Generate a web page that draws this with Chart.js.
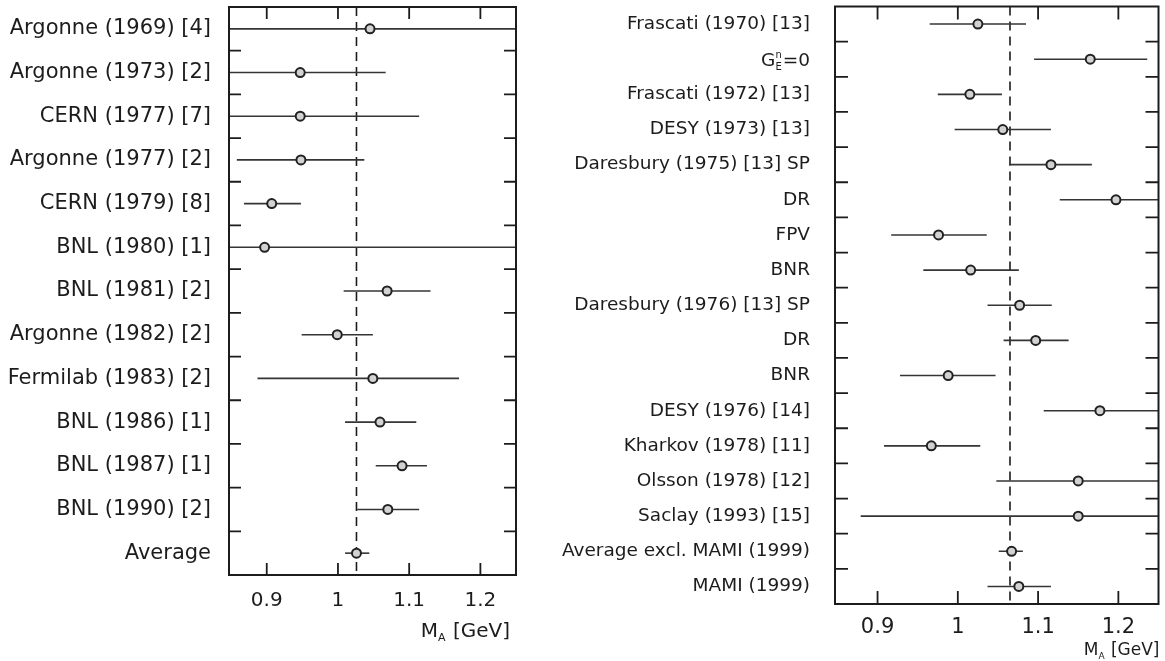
<!doctype html>
<html lang="en">
<head>
  <meta charset="UTF-8">
  <title>Axial mass M_A measurements</title>
  <script src="https://cdn.jsdelivr.net/npm/chart.js"></script>
  <style>
    body {
      margin: 0;
      background: #fff;
    }
    canvas {
      position: absolute;
      top: 0;
    }
  </style>
</head>
<body>
  <canvas id="left-chart" width="525" height="661" style="left:0"></canvas>
  <canvas id="right-chart" width="625" height="661" style="left:540px"></canvas>

<script>
  // Left panel: neutrino scattering experiments
  const leftLabels = ['Argonne (1969) [4]', 'Argonne (1973) [2]', 'CERN (1977) [7]', 'Argonne (1977) [2]',
    'CERN (1979) [8]', 'BNL (1980) [1]', 'BNL (1981) [2]', 'Argonne (1982) [2]', 'Fermilab (1983) [2]',
    'BNL (1986) [1]', 'BNL (1987) [1]', 'BNL (1990) [2]', 'Average'];
  const leftValues = [1.045, 0.947, 0.947, 0.948, 0.907, 0.897, 1.069, 0.999, 1.049, 1.059, 1.090, 1.070, 1.026];
  const leftLow    = [0.800, 0.830, 0.800, 0.858, 0.868, 0.600, 1.008, 0.949, 0.887, 1.010, 1.053, 1.027, 1.010];
  const leftHigh   = [1.300, 1.067, 1.114, 1.037, 0.948, 1.400, 1.130, 1.049, 1.170, 1.110, 1.125, 1.114, 1.044];
  const leftMean = 1.026;

  // Right panel: pion electroproduction experiments
  const rightLabels = ['Frascati (1970) [13]', 'G_E^n=0', 'Frascati (1972) [13]', 'DESY (1973) [13]',
    'Daresbury (1975) [13] SP', 'DR', 'FPV', 'BNR', 'Daresbury (1976) [13] SP', 'DR', 'BNR',
    'DESY (1976) [14]', 'Kharkov (1978) [11]', 'Olsson (1978) [12]', 'Saclay (1993) [15]',
    'Average excl. MAMI (1999)', 'MAMI (1999)'];
  const rightValues = [1.025, 1.165, 1.015, 1.056, 1.116, 1.197, 0.976, 1.016, 1.077, 1.097, 0.988, 1.177, 0.967, 1.150, 1.150, 1.067, 1.076];
  const rightLow    = [0.965, 1.095, 0.975, 0.996, 1.064, 1.127, 0.917, 0.957, 1.037, 1.057, 0.928, 1.107, 0.908, 1.048, 0.879, 1.051, 1.037];
  const rightHigh   = [1.085, 1.236, 1.055, 1.116, 1.167, 1.300, 1.036, 1.076, 1.117, 1.138, 1.047, 1.300, 1.028, 1.300, 1.300, 1.081, 1.116];
  const rightMean = 1.065;

  const xTicks = [0.9, 1, 1.1, 1.2];
  const xMin = 0.847, xMax = 1.25;

  Chart.defaults.font.family = 'DejaVu Sans';
  Chart.defaults.color = '#1c1c1c';

  const ink = '#1c1c1c';

  // draws a label like "G_E^n=0" or "M_A [GeV]" with small stacked sub/superscripts
  function richText(ctx, text, xRight, yMid, size) {
    const m = text.match(/^(.*?)_(\w)(\^(\w))?(.*)$/);
    const small = Math.round(size * 0.55);
    const big = size + 'px "DejaVu Sans"';
    const sm = small + 'px "DejaVu Sans"';
    ctx.font = big;
    const w1 = ctx.measureText(m[1]).width;
    const w3 = ctx.measureText(m[5]).width;
    ctx.font = sm;
    const w2 = Math.max(ctx.measureText(m[2]).width, m[4] ? ctx.measureText(m[4]).width : 0) + 1;
    let x0 = xRight - (w1 + w2 + w3);
    ctx.textAlign = 'left';
    ctx.textBaseline = 'alphabetic';
    ctx.fillStyle = ink;
    const base = yMid + size * 0.36;
    ctx.font = big;
    ctx.fillText(m[1], x0, base);
    ctx.font = sm;
    ctx.fillText(m[2], x0 + w1, base + size * 0.2);
    if (m[4]) ctx.fillText(m[4], x0 + w1, base - size * 0.45);
    ctx.font = big;
    ctx.fillText(m[5], x0 + w1 + w2, base);
  }

  const framePlugin = {
    id: 'frame',
    beforeDatasetsDraw(chart, args, opts) {
      const {ctx, chartArea: a, scales: {x, y}} = chart;
      ctx.save();
      // dashed line at the average
      ctx.strokeStyle = ink;
      ctx.lineWidth = 1.6;
      ctx.setLineDash([9, 6]);
      const xr = x.getPixelForValue(opts.mean);
      ctx.beginPath();
      ctx.moveTo(xr, a.top);
      ctx.lineTo(xr, a.bottom);
      ctx.stroke();
      ctx.setLineDash([]);
      // horizontal error bars
      ctx.beginPath();
      ctx.rect(a.left, a.top, a.width, a.height);
      ctx.clip();
      ctx.strokeStyle = '#353535';
      ctx.lineWidth = 1.6;
      opts.low.forEach((lo, i) => {
        const py = y.getPixelForValue(i);
        ctx.beginPath();
        ctx.moveTo(x.getPixelForValue(lo), py);
        ctx.lineTo(x.getPixelForValue(opts.high[i]), py);
        ctx.stroke();
      });
      ctx.restore();
    },
    afterDraw(chart, args, opts) {
      const {ctx, chartArea: a, scales: {x, y}} = chart;
      ctx.save();
      ctx.strokeStyle = ink;
      ctx.lineWidth = 2;
      ctx.strokeRect(a.left, a.top, a.width, a.height);
      ctx.lineWidth = 1.8;
      ctx.beginPath();
      // inward ticks between rows
      for (let i = 0; i < opts.low.length - 1; i++) {
        const py = (y.getPixelForValue(i) + y.getPixelForValue(i + 1)) / 2;
        ctx.moveTo(a.left, py);
        ctx.lineTo(a.left + opts.tick, py);
        ctx.moveTo(a.right - opts.tick, py);
        ctx.lineTo(a.right, py);
      }
      // inward ticks on top and bottom
      xTicks.forEach(v => {
        const px = x.getPixelForValue(v);
        ctx.moveTo(px, a.bottom);
        ctx.lineTo(px, a.bottom - opts.tick);
        ctx.moveTo(px, a.top);
        ctx.lineTo(px, a.top + opts.tick);
      });
      ctx.stroke();
      // labels with sub/superscripts
      opts.labels.forEach((lab, i) => {
        if (lab.includes('_')) richText(ctx, lab, a.left - opts.labelPad, y.getPixelForValue(i), opts.labelSize);
      });
      // axis title
      richText(ctx, 'M_A [GeV]', a.right + opts.titleDx, opts.titleY, opts.titleSize);
      ctx.restore();
    }
  };

  function makePanel(id, cfg) {
    const ctx = document.getElementById(id).getContext('2d');
    return new Chart(ctx, {
      type: 'scatter',
      data: {
        labels: cfg.labels,
        datasets: [{
          data: cfg.values.map((v, i) => ({x: v, y: i})),
          pointRadius: 4.5,
          pointBorderWidth: 2,
          pointBackgroundColor: '#d2d2d2',
          pointBorderColor: '#222',
          pointHoverRadius: 4.5
        }]
      },
      options: {
        responsive: false,
        animation: false,
        layout: {padding: {top: cfg.padTop, right: cfg.padRight, left: 0, bottom: 0}},
        plugins: {
          legend: {display: false},
          tooltip: {enabled: false},
          frame: {
            mean: cfg.mean, low: cfg.low, high: cfg.high, labels: cfg.labels,
            tick: cfg.tick, labelPad: cfg.labelPad, labelSize: cfg.labelSize,
            titleDx: cfg.titleDx, titleY: cfg.titleY, titleSize: cfg.titleSize
          }
        },
        scales: {
          x: {
            type: 'linear',
            min: xMin,
            max: xMax,
            grid: {display: false},
            border: {display: false},
            afterBuildTicks: s => { s.ticks = xTicks.map(v => ({value: v})); },
            afterFit: s => { s.height = cfg.axisHeight; s.paddingLeft = 0; s.paddingRight = 0; },
            ticks: {
              font: {size: cfg.tickSize},
              padding: cfg.tickPad,
              maxRotation: 0,
              callback: v => String(v)
            }
          },
          y: {
            type: 'category',
            labels: cfg.labels,
            offset: true,
            grid: {display: false, drawTicks: false},
            border: {display: false},
            afterFit: s => { s.width = cfg.axisWidth; s.paddingTop = 0; s.paddingBottom = 0; },
            ticks: {
              font: {size: cfg.labelSize},
              padding: cfg.labelPad,
              autoSkip: false,
              callback: (v, i) => cfg.labels[i].includes('_') ? '' : cfg.labels[i]
            }
          }
        }
      },
      plugins: [framePlugin]
    });
  }

  makePanel('left-chart', {
    labels: leftLabels, values: leftValues, low: leftLow, high: leftHigh, mean: leftMean,
    axisWidth: 229, axisHeight: 86, padTop: 7, padRight: 9,
    labelSize: 21, labelPad: 18, tickSize: 20, tickPad: 6, tick: 12,
    titleSize: 20, titleDx: -6, titleY: 630
  });

  makePanel('right-chart', {
    labels: rightLabels, values: rightValues, low: rightLow, high: rightHigh, mean: rightMean,
    axisWidth: 295, axisHeight: 57, padTop: 3, padRight: 6,
    labelSize: 18.5, labelPad: 25, tickSize: 21, tickPad: 3, tick: 13,
    titleSize: 17, titleDx: 1, titleY: 649
  });
</script>
</body>
</html>
